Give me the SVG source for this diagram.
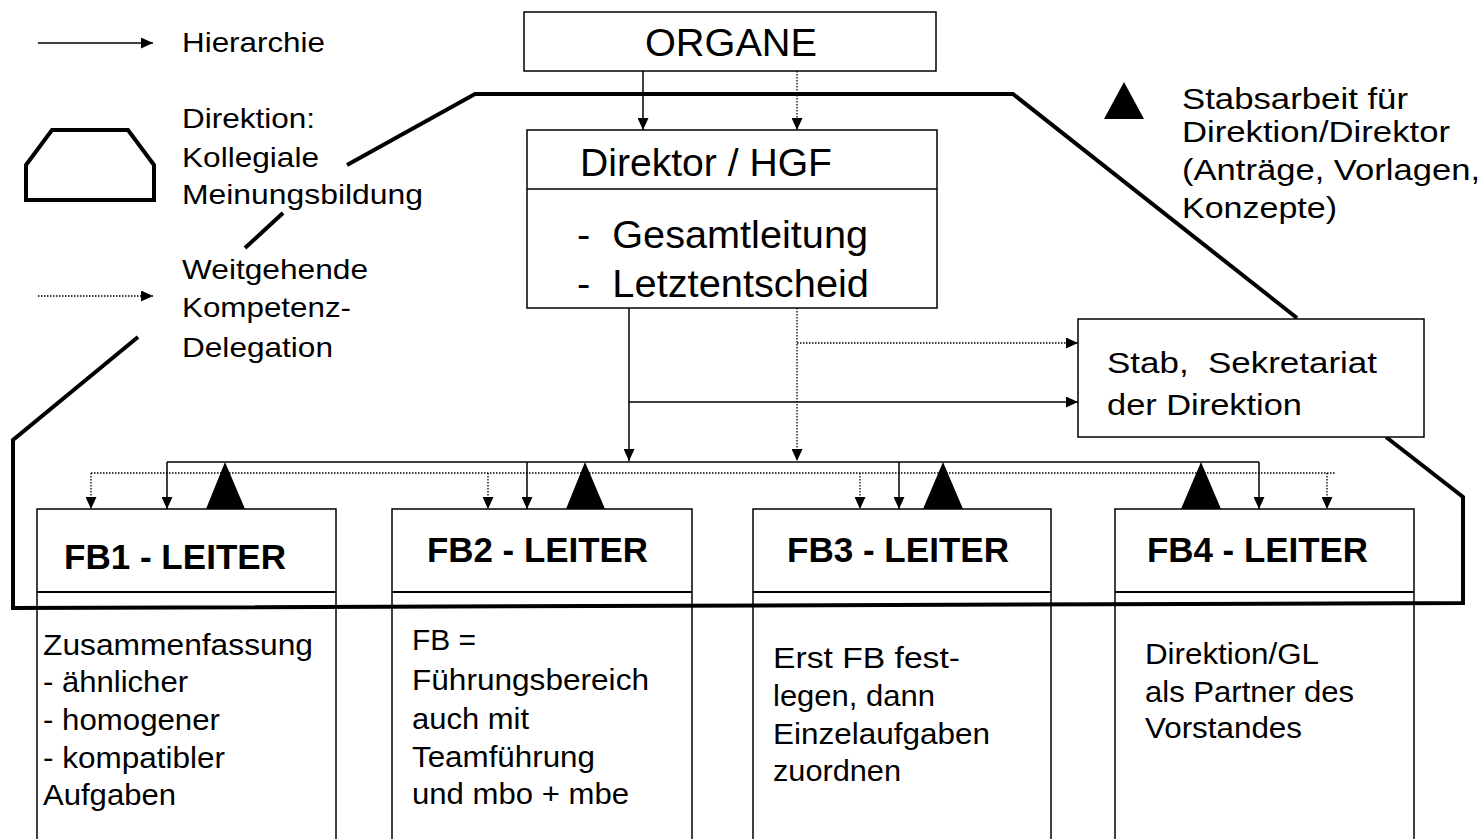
<svg xmlns="http://www.w3.org/2000/svg" width="1483" height="839" viewBox="0 0 1483 839">
<style>
text { font-family: "Liberation Sans", Arial, sans-serif; fill: #000; white-space: pre; }
.lg { font-size: 28px; }
.st { font-size: 30px; }
.big { font-size: 38.5px; }
.fb { font-size: 35px; font-weight: bold; }
.bt { font-size: 29px; }
.box { fill: #fff; stroke: #000; stroke-width: 1.5; }
.div { stroke: #000; stroke-width: 2; fill: none; }
.thin { stroke: #000; stroke-width: 1.5; fill: none; }
.sol { stroke: #000; stroke-width: 1.5; fill: none; }
.dot { stroke: #000; stroke-width: 1.3; fill: none; stroke-dasharray: 1.5 1.5; }
.thick { stroke: #000; stroke-width: 4; fill: none; stroke-linejoin: miter; }
.tri { fill: #000; }
</style>
<defs>
<marker id="ah" markerUnits="userSpaceOnUse" markerWidth="12" markerHeight="11" refX="12" refY="5.5" orient="auto">
<path d="M0,0 L12,5.5 L0,11 z" fill="#000"/>
</marker>
</defs>
<rect x="0" y="0" width="1483" height="839" fill="#fff"/>

<!-- FB boxes -->
<g id="fb1">
<rect class="box" x="37" y="509" width="299" height="345"/>
<line class="div" x1="37" y1="592" x2="336" y2="592"/>
<text class="fb" x="64" y="569" textLength="222" lengthAdjust="spacingAndGlyphs">FB1 - LEITER</text>
<text class="bt" x="43" y="655" textLength="270" lengthAdjust="spacingAndGlyphs">Zusammenfassung</text>
<text class="bt" x="43" y="692" textLength="145" lengthAdjust="spacingAndGlyphs">- ähnlicher</text>
<text class="bt" x="43" y="730" textLength="177" lengthAdjust="spacingAndGlyphs">- homogener</text>
<text class="bt" x="43" y="768" textLength="182" lengthAdjust="spacingAndGlyphs">- kompatibler</text>
<text class="bt" x="43" y="805" textLength="133" lengthAdjust="spacingAndGlyphs">Aufgaben</text>
</g>
<g id="fb2">
<rect class="box" x="392" y="509" width="300" height="345"/>
<line class="div" x1="392" y1="592" x2="692" y2="592"/>
<text class="fb" x="427" y="562" textLength="221" lengthAdjust="spacingAndGlyphs">FB2 - LEITER</text>
<text class="bt" x="412" y="650" textLength="64" lengthAdjust="spacingAndGlyphs">FB =</text>
<text class="bt" x="412" y="690" textLength="237" lengthAdjust="spacingAndGlyphs">Führungsbereich</text>
<text class="bt" x="412" y="729" textLength="117" lengthAdjust="spacingAndGlyphs">auch mit</text>
<text class="bt" x="412" y="767" textLength="183" lengthAdjust="spacingAndGlyphs">Teamführung</text>
<text class="bt" x="412" y="804" textLength="217" lengthAdjust="spacingAndGlyphs">und mbo + mbe</text>
</g>
<g id="fb3">
<rect class="box" x="753" y="509" width="298" height="345"/>
<line class="div" x1="753" y1="592" x2="1051" y2="592"/>
<text class="fb" x="787" y="562" textLength="222" lengthAdjust="spacingAndGlyphs">FB3 - LEITER</text>
<text class="bt" x="773" y="668" textLength="187" lengthAdjust="spacingAndGlyphs">Erst FB fest-</text>
<text class="bt" x="773" y="706" textLength="162" lengthAdjust="spacingAndGlyphs">legen, dann</text>
<text class="bt" x="773" y="744" textLength="217" lengthAdjust="spacingAndGlyphs">Einzelaufgaben</text>
<text class="bt" x="773" y="781" textLength="128" lengthAdjust="spacingAndGlyphs">zuordnen</text>
</g>
<g id="fb4">
<rect class="box" x="1115" y="509" width="299" height="345"/>
<line class="div" x1="1115" y1="592" x2="1414" y2="592"/>
<text class="fb" x="1147" y="562" textLength="221" lengthAdjust="spacingAndGlyphs">FB4 - LEITER</text>
<text class="bt" x="1145" y="664" textLength="174" lengthAdjust="spacingAndGlyphs">Direktion/GL</text>
<text class="bt" x="1145" y="702" textLength="209" lengthAdjust="spacingAndGlyphs">als Partner des</text>
<text class="bt" x="1145" y="738" textLength="157" lengthAdjust="spacingAndGlyphs">Vorstandes</text>
</g>

<!-- Direktion outline (kollegiale Meinungsbildung) -->
<g id="direktion-outline">
<path class="thick" d="M1386,437 L1463,497 L1463,603 L13,608 L13,440 L138,337"/>
<path class="thick" d="M245,248 L283,213"/>
<path class="thick" d="M347,165 L475,94 L1013,94 L1297,318"/>
</g>

<!-- Nodes -->
<g id="organe">
<rect class="box" x="524" y="12" width="412" height="59"/>
<text class="big" x="645" y="56" textLength="172" lengthAdjust="spacingAndGlyphs">ORGANE</text>
</g>
<g id="direktor">
<rect class="box" x="527" y="130" width="410" height="178"/>
<line class="thin" x1="527" y1="189" x2="937" y2="189"/>
<text class="big" x="580" y="176" textLength="252" lengthAdjust="spacingAndGlyphs">Direktor / HGF</text>
<text class="big" x="577" y="248" textLength="291" lengthAdjust="spacingAndGlyphs">-  Gesamtleitung</text>
<text class="big" x="577" y="297" textLength="292" lengthAdjust="spacingAndGlyphs">-  Letztentscheid</text>
</g>
<g id="stab">
<rect class="box" x="1078" y="319" width="346" height="118"/>
<text class="st" x="1107" y="373" textLength="270" lengthAdjust="spacingAndGlyphs">Stab,  Sekretariat</text>
<text class="st" x="1107" y="415" textLength="195" lengthAdjust="spacingAndGlyphs">der Direktion</text>
</g>

<!-- Connectors -->
<g id="connectors">
<line class="sol" x1="643" y1="71" x2="643" y2="130" marker-end="url(#ah)"/>
<line class="dot" x1="797" y1="71" x2="797" y2="130" marker-end="url(#ah)"/>
<line class="sol" x1="629" y1="308" x2="629" y2="461" marker-end="url(#ah)"/>
<line class="dot" x1="797" y1="308" x2="797" y2="461" marker-end="url(#ah)"/>
<line class="dot" x1="797" y1="343" x2="1078" y2="343" marker-end="url(#ah)"/>
<line class="sol" x1="629" y1="402" x2="1078" y2="402" marker-end="url(#ah)"/>
<line class="sol" x1="167" y1="462" x2="1259" y2="462"/>
<line class="dot" x1="91" y1="473" x2="1335" y2="473"/>
<line class="sol" x1="167" y1="462" x2="167" y2="509" marker-end="url(#ah)"/>
<line class="sol" x1="527" y1="462" x2="527" y2="509" marker-end="url(#ah)"/>
<line class="sol" x1="899" y1="462" x2="899" y2="509" marker-end="url(#ah)"/>
<line class="sol" x1="1259" y1="462" x2="1259" y2="509" marker-end="url(#ah)"/>
<line class="dot" x1="91" y1="473" x2="91" y2="509" marker-end="url(#ah)"/>
<line class="dot" x1="488" y1="473" x2="488" y2="509" marker-end="url(#ah)"/>
<line class="dot" x1="860" y1="473" x2="860" y2="509" marker-end="url(#ah)"/>
<line class="dot" x1="1327" y1="473" x2="1327" y2="509" marker-end="url(#ah)"/>
<polygon class="tri" points="206,509 245,509 225,462"/>
<polygon class="tri" points="566,509 605,509 585,462"/>
<polygon class="tri" points="923,509 963,509 943,462"/>
<polygon class="tri" points="1181,509 1221,509 1201,462"/>
</g>

<!-- Legend -->
<g id="legend-hierarchie">
<line class="sol" x1="38" y1="43" x2="153" y2="43" marker-end="url(#ah)"/>
<text class="lg" x="182" y="52" textLength="143" lengthAdjust="spacingAndGlyphs">Hierarchie</text>
</g>
<g id="legend-direktion">
<polygon class="thick" points="26,200 26,165 52,130 128,130 154,165 154,200"/>
<text class="lg" x="182" y="128" textLength="133" lengthAdjust="spacingAndGlyphs">Direktion:</text>
<text class="lg" x="182" y="167" textLength="137" lengthAdjust="spacingAndGlyphs">Kollegiale</text>
<text class="lg" x="182" y="204" textLength="241" lengthAdjust="spacingAndGlyphs">Meinungsbildung</text>
</g>
<g id="legend-delegation">
<line class="dot" x1="38" y1="296" x2="153" y2="296" marker-end="url(#ah)"/>
<text class="lg" x="182" y="279" textLength="186" lengthAdjust="spacingAndGlyphs">Weitgehende</text>
<text class="lg" x="182" y="317" textLength="169" lengthAdjust="spacingAndGlyphs">Kompetenz-</text>
<text class="lg" x="182" y="357" textLength="151" lengthAdjust="spacingAndGlyphs">Delegation</text>
</g>
<g id="legend-stabsarbeit">
<polygon class="tri" points="1104,119 1144,119 1124,82"/>
<text class="st" x="1182" y="109" textLength="226" lengthAdjust="spacingAndGlyphs">Stabsarbeit für</text>
<text class="st" x="1182" y="142" textLength="268" lengthAdjust="spacingAndGlyphs">Direktion/Direktor</text>
<text class="st" x="1182" y="180" textLength="298" lengthAdjust="spacingAndGlyphs">(Anträge, Vorlagen,</text>
<text class="st" x="1182" y="218" textLength="155" lengthAdjust="spacingAndGlyphs">Konzepte)</text>
</g>
</svg>
